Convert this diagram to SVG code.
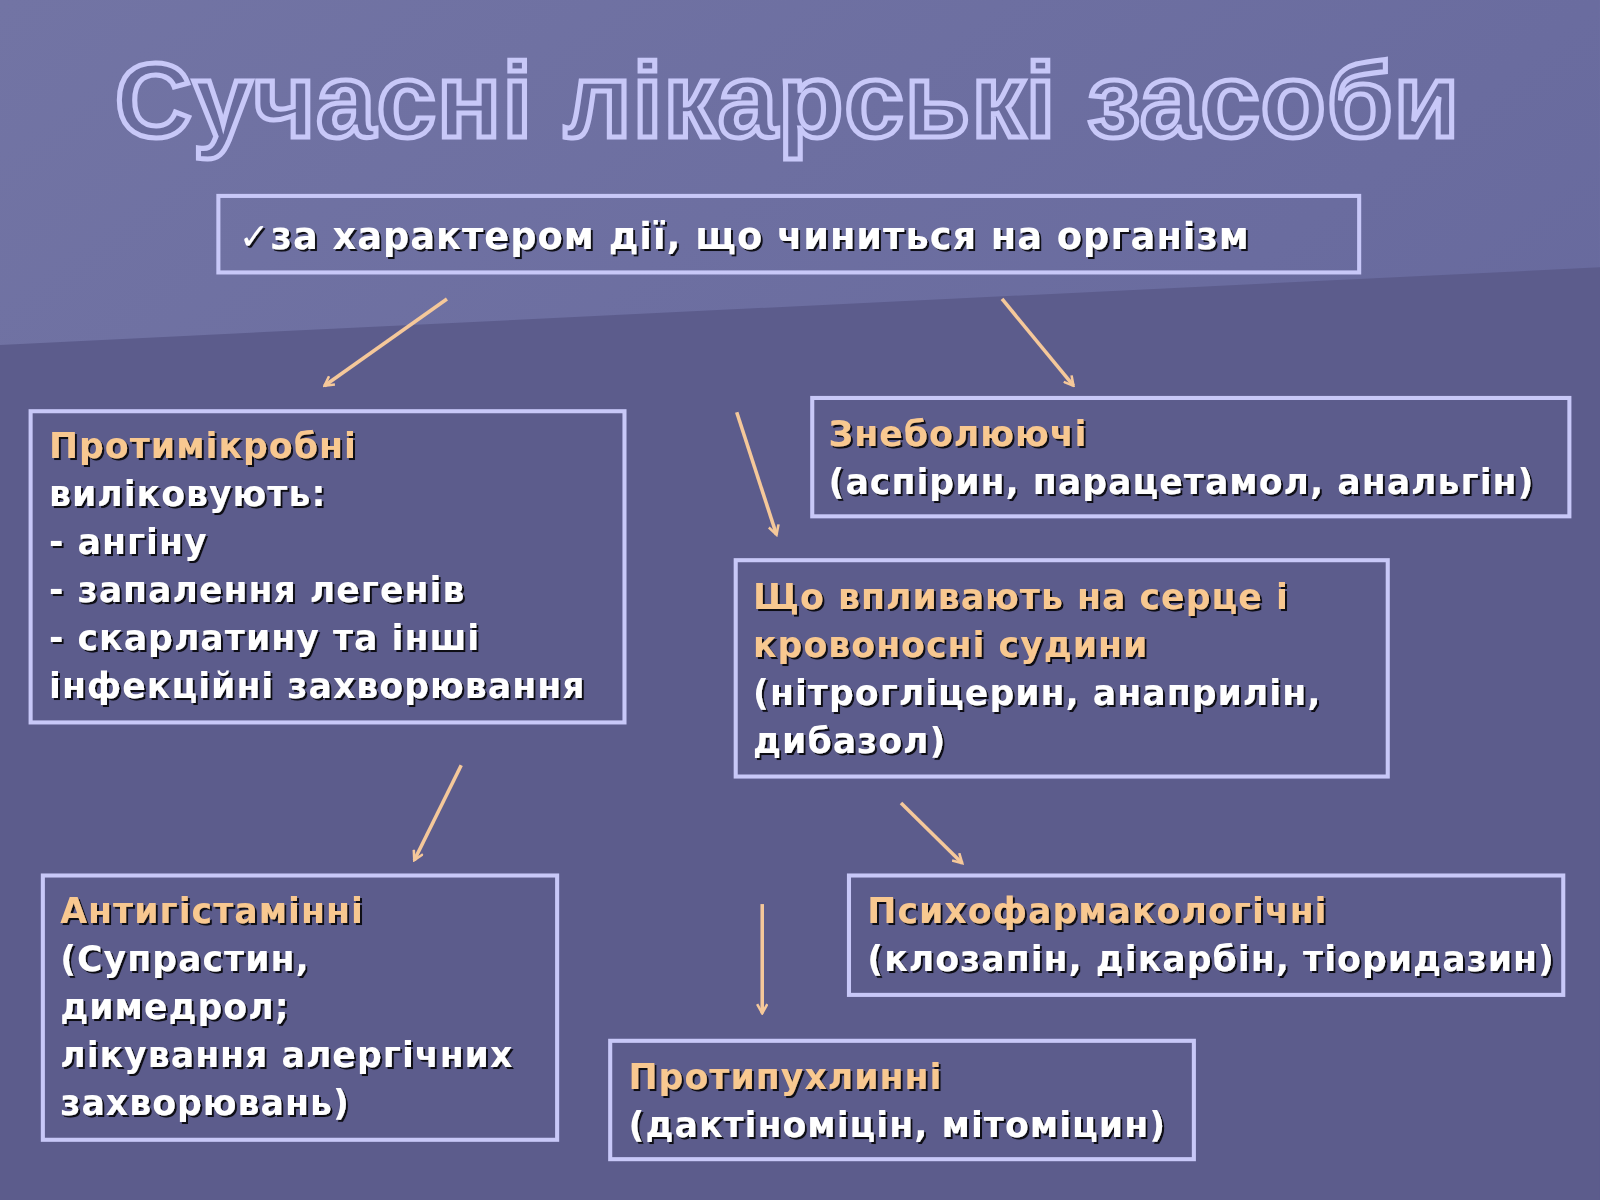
<svg xmlns="http://www.w3.org/2000/svg" width="1600" height="1200" viewBox="0 0 1600 1200">
<defs>
<linearGradient id="bg" x1="0" y1="0" x2="1" y2="1"><stop offset="0" stop-color="#7274a4"/><stop offset="1" stop-color="#62649a"/></linearGradient>
<filter id="sh" x="-5%" y="-20%" width="110%" height="140%"><feDropShadow dx="2" dy="2" stdDeviation="0.5" flood-color="#000" flood-opacity="0.85"/></filter>
<marker id="ah" viewBox="0 0 12 12" refX="10" refY="6" markerWidth="12" markerHeight="12" markerUnits="userSpaceOnUse" orient="auto"><path d="M1,1 L10,6 L1,11" fill="none" stroke="#f5c89a" stroke-width="2.5"/></marker>
<style>
.box{fill:none;stroke:#c8c8f8;stroke-width:4}
.t{font-family:"DejaVu Sans","Liberation Sans",sans-serif;font-weight:bold;font-size:34px;letter-spacing:1px;fill:#fff;filter:url(#sh)}
.o{fill:#f8c890}
.c{stroke:#f5c89a;stroke-width:3.5;fill:none;marker-end:url(#ah)}
</style>
</defs>
<g transform="scale(1.0204)">
<rect width="1568" height="1176" fill="url(#bg)"/>
<path d="M0,338 L1568,262 L1568,1176 L0,1176 Z" fill="#5c5c8c"/>
<text x="772" y="134" text-anchor="middle" font-family="Liberation Sans, Arial, sans-serif" font-weight="bold" font-size="104" fill="#6a6c9e" stroke="#c8c8f8" stroke-width="5" letter-spacing="1.3">Сучасні лікарські засоби</text>
<g id="top"><rect class="box" x="214" y="192" width="1118" height="75"/><text class="t" x="234" y="244" style="font-size:36px">✓за характером дії, що чиниться на організм</text></g>
<g id="antimicrobial"><rect class="box" x="30" y="403" width="582" height="305"/><text class="t" x="48" y="449"><tspan class="o">Протимікробні</tspan><tspan x="48" dy="47">виліковують:</tspan><tspan x="48" dy="47">- ангіну</tspan><tspan x="48" dy="47">- запалення легенів</tspan><tspan x="48" dy="47">- скарлатину та інші</tspan><tspan x="48" dy="47">інфекційні захворювання</tspan></text></g>
<g id="analgesic"><rect class="box" x="796" y="390" width="742" height="116"/><text class="t" x="812" y="437"><tspan class="o">Знеболюючі</tspan><tspan x="812" dy="47">(аспірин, парацетамол, анальгін)</tspan></text></g>
<g id="heart"><rect class="box" x="721" y="549" width="639" height="212"/><text class="t" x="738" y="597"><tspan class="o">Що впливають на серце і</tspan><tspan class="o" x="738" dy="47">кровоносні судини</tspan><tspan x="738" dy="47">(нітрогліцерин, анаприлін,</tspan><tspan x="738" dy="47">дибазол)</tspan></text></g>
<g id="antihist"><rect class="box" x="42" y="858" width="504" height="259"/><text class="t" x="59" y="905"><tspan class="o">Антигістамінні</tspan><tspan x="59" dy="47">(Супрастин,</tspan><tspan x="59" dy="47">димедрол;</tspan><tspan x="59" dy="47">лікування алергічних</tspan><tspan x="59" dy="47">захворювань)</tspan></text></g>
<g id="psycho"><rect class="box" x="832" y="858" width="700" height="117"/><text class="t" x="850" y="905"><tspan class="o">Психофармакологічні</tspan><tspan x="850" dy="47">(клозапін, дікарбін, тіоридазин)</tspan></text></g>
<g id="antitumor"><rect class="box" x="598" y="1020" width="572" height="116"/><text class="t" x="616" y="1067"><tspan class="o">Протипухлинні</tspan><tspan x="616" dy="47">(дактіноміцін, мітоміцин)</tspan></text></g>
<g id="connectors">
<line class="c" x1="438" y1="293" x2="318" y2="378"/>
<line class="c" x1="982" y1="293" x2="1052" y2="378"/>
<line class="c" x1="722" y1="404" x2="761" y2="524"/>
<line class="c" x1="452" y1="750" x2="406" y2="843"/>
<line class="c" x1="883" y1="787" x2="943" y2="846"/>
<line class="c" x1="747" y1="886" x2="747" y2="993"/>
</g>
</g>
</svg>
